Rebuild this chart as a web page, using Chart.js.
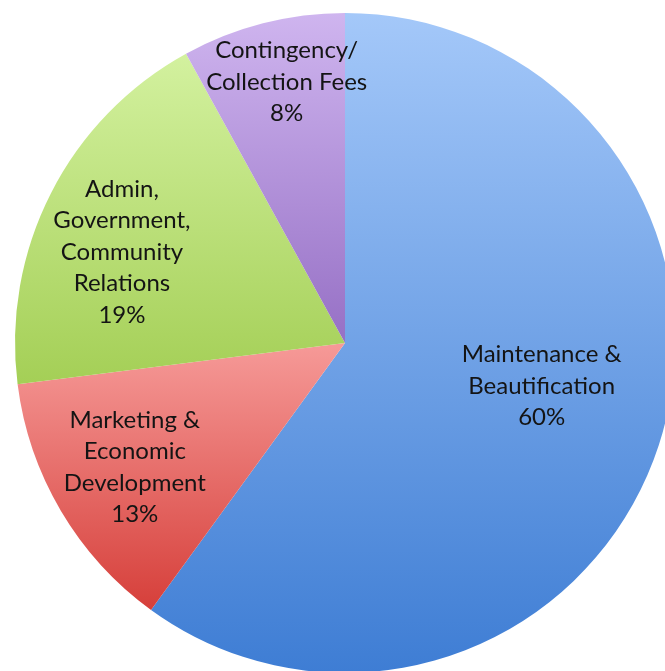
<!DOCTYPE html>
<html>
<head>
<meta charset="utf-8">
<script src="https://cdn.jsdelivr.net/npm/chart.js@4"></script>
<style>
  html, body { margin: 0; padding: 0; background: #ffffff; overflow: hidden; width: 665px; height: 671px; }
  #wrap { position: absolute; left: 0; top: 0; width: 690px; height: 686px; }
</style>
</head>
<body>
<div id="wrap"><canvas id="c"></canvas></div>
<script>
// ---- data ----
const categories = ['Maintenance & Beautification', 'Marketing & Economic Development', 'Admin, Government, Community Relations', 'Contingency/ Collection Fees'];
const values = [60, 13, 19, 8];
const labelLines = [
  ['Maintenance &', 'Beautification'],
  ['Marketing &', 'Economic', 'Development'],
  ['Admin,', 'Government,', 'Community', 'Relations'],
  ['Contingency/', 'Collection Fees']
];

// ---- style ----
const topColors = ['#a4c8f9', '#f69a98', '#d3f19f', '#cfb5ef'];
const bottomColors = ['#3e7dd4', '#d63f3a', '#a4cf56', '#9670c5'];
const labelRadius = [0.61, 0.74, 0.73, 0.81];
const labelAngleShift = [-5.7, 0, -4.8, 1.8];
const FONT = '24px Lato, "Open Sans", sans-serif';
const LINE_H = 31.5;

function sliceGradient(ctx) {
  const chart = ctx.chart;
  const area = chart.chartArea;
  const i = ctx.dataIndex;
  if (!area) return topColors[i];
  const total = values.reduce((a, b) => a + b, 0);
  const start = values.slice(0, i).reduce((a, b) => a + b, 0) / total * 2 * Math.PI - Math.PI / 2;
  const end = start + values[i] / total * 2 * Math.PI;
  const cy = (area.top + area.bottom) / 2;
  const r = Math.min(area.right - area.left, area.bottom - area.top) / 2;
  let minY = cy, maxY = cy;
  for (let k = 0; k <= 80; k++) {
    const a = start + (end - start) * k / 80;
    const y = cy + r * Math.sin(a);
    minY = Math.min(minY, y); maxY = Math.max(maxY, y);
  }
  const g = chart.ctx.createLinearGradient(0, minY, 0, maxY);
  g.addColorStop(0, topColors[i]);
  g.addColorStop(1, bottomColors[i]);
  return g;
}

const labelPlugin = {
  id: 'sliceLabels',
  afterDatasetsDraw(chart) {
    const meta = chart.getDatasetMeta(0);
    const c = chart.ctx;
    c.save();
    c.font = FONT;
    c.fillStyle = '#141414';
    c.textAlign = 'center';
    c.textBaseline = 'middle';
    meta.data.forEach((arc, i) => {
      const p = arc.getProps(['x', 'y', 'startAngle', 'endAngle', 'outerRadius'], true);
      const mid = (p.startAngle + p.endAngle) / 2 + labelAngleShift[i] * Math.PI / 180;
      const cx = p.x + Math.cos(mid) * p.outerRadius * labelRadius[i];
      const cy = p.y + Math.sin(mid) * p.outerRadius * labelRadius[i];
      const lines = labelLines[i].concat([values[i] + '%']);
      const y0 = cy - (lines.length - 1) * LINE_H / 2;
      lines.forEach((t, k) => c.fillText(t, cx, y0 + k * LINE_H));
    });
    c.restore();
  }
};

new Chart(document.getElementById('c'), {
  type: 'pie',
  data: {
    labels: categories,
    datasets: [{
      data: values,
      backgroundColor: sliceGradient,
      borderWidth: 0
    }]
  },
  options: {
    responsive: true,
    maintainAspectRatio: false,
    animation: false,
    layout: { padding: { left: 15, right: 15, top: 13, bottom: 13 } },
    plugins: { legend: { display: false }, tooltip: { enabled: false } }
  },
  plugins: [labelPlugin]
});
</script>
</body>
</html>
